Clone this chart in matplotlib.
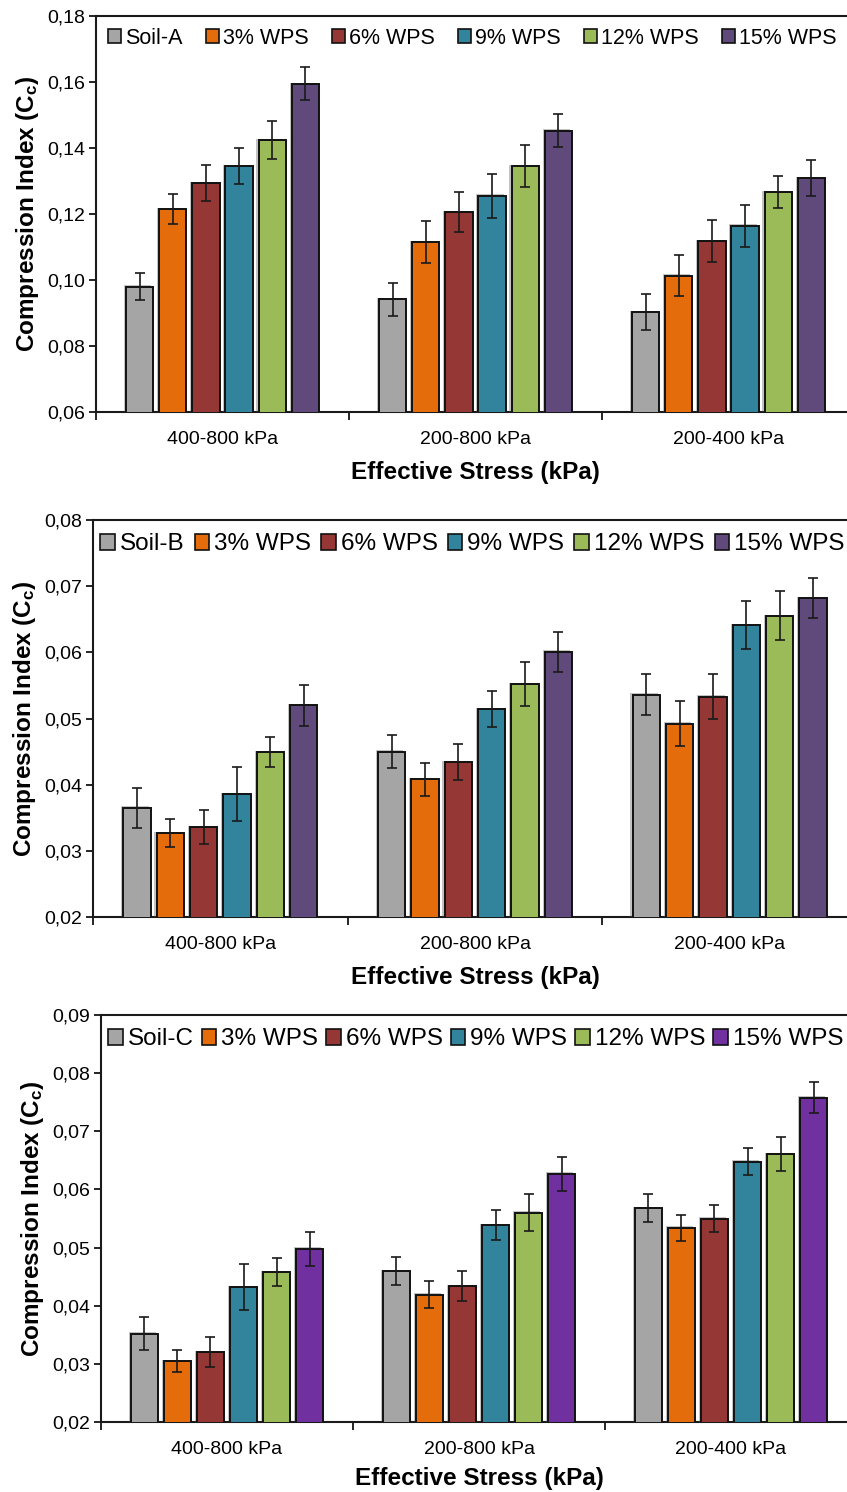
import matplotlib
matplotlib.use('Agg')
import matplotlib.pyplot as plt
import matplotlib.patheffects as pe
from matplotlib.ticker import FuncFormatter, FixedLocator
import numpy as np

plt.rcParams['font.family'] = ['Liberation Sans', 'DejaVu Sans']
plt.rcParams['mathtext.fontset'] = 'custom'
plt.rcParams['mathtext.rm'] = 'Liberation Sans:bold'
plt.rcParams['mathtext.it'] = 'Liberation Sans:bold'

categories = ['400-800 kPa', '200-800 kPa', '200-400 kPa']
wps_labels = ['3% WPS', '6% WPS', '9% WPS', '12% WPS', '15% WPS']

# rows: soil, 3%, 6%, 9%, 12%, 15% WPS; columns: stress ranges
soil_a_cc = [[0.0980, 0.0942, 0.0903],
             [0.1215, 0.1115, 0.1013],
             [0.1294, 0.1206, 0.1118],
             [0.1345, 0.1255, 0.1164],
             [0.1424, 0.1345, 0.1267],
             [0.1594, 0.1452, 0.1309]]
soil_a_err = [[0.0040, 0.0050, 0.0055],
              [0.0045, 0.0064, 0.0062],
              [0.0054, 0.0060, 0.0064],
              [0.0055, 0.0066, 0.0063],
              [0.0058, 0.0064, 0.0048],
              [0.0050, 0.0050, 0.0055]]

soil_b_cc = [[0.0365, 0.0450, 0.0536],
             [0.0327, 0.0408, 0.0492],
             [0.0336, 0.0434, 0.0533],
             [0.0386, 0.0514, 0.0641],
             [0.0449, 0.0552, 0.0655],
             [0.0520, 0.0601, 0.0682]]
soil_b_err = [[0.0030, 0.0025, 0.0031],
              [0.0021, 0.0025, 0.0034],
              [0.0026, 0.0027, 0.0034],
              [0.0041, 0.0027, 0.0036],
              [0.0023, 0.0033, 0.0037],
              [0.0031, 0.0030, 0.0030]]

soil_c_cc = [[0.0352, 0.0459, 0.0568],
             [0.0305, 0.0419, 0.0534],
             [0.0320, 0.0434, 0.0550],
             [0.0432, 0.0539, 0.0648],
             [0.0458, 0.0560, 0.0661],
             [0.0498, 0.0627, 0.0758]]
soil_c_err = [[0.0029, 0.0024, 0.0024],
              [0.0019, 0.0023, 0.0022],
              [0.0026, 0.0026, 0.0024],
              [0.0039, 0.0026, 0.0024],
              [0.0024, 0.0032, 0.0029],
              [0.0029, 0.0029, 0.0026]]

base_colors = ['#A5A5A5', '#E46C0A', '#953735', '#31849B', '#9BBB59']
purple_ab = '#604A7B'
purple_c = '#7030A0'

W, H = 847, 1492


def px_axes(fig, left, top, right, bottom):
    return fig.add_axes([left / W, 1 - bottom / H, (right - left) / W, (bottom - top) / H])


def comma_fmt(v, pos):
    return f'{v:.2f}'.replace('.', ',')


def draw_panel(ax, soil_name, means, errs, ylim, colors, leg_size, colspacing,
               leg_x=0.0, xlabel_pad=9):
    x = np.arange(len(categories))
    pitch = 0.131
    width = 0.108
    names = [soil_name] + wps_labels
    shadow = [pe.SimplePatchShadow(offset=(-1.5, 1.0), shadow_rgbFace='#555555', alpha=0.35),
              pe.Normal()]
    for i, name in enumerate(names):
        pos = x + (i - 2.5) * pitch
        bars = ax.bar(pos, means[i], width=width, bottom=0, color=colors[i],
                      edgecolor='#111111', linewidth=1.4, label=name, zorder=3)
        for b in bars:
            b.set_path_effects(shadow)
        ax.errorbar(pos, means[i], yerr=errs[i], fmt='none', ecolor='#1a1a1a',
                    elinewidth=1.2, capsize=3.5, capthick=1.2, zorder=4)

    ax.set_ylim(*ylim)
    ax.set_xlim(-0.5, 2.5)
    step = 0.01 if ylim[1] < 0.1 else 0.02
    ax.yaxis.set_major_locator(FixedLocator(np.arange(ylim[0], ylim[1] + 1e-9, step)))
    ax.yaxis.set_major_formatter(FuncFormatter(comma_fmt))
    ax.tick_params(axis='y', direction='out', length=5, width=1.2, labelsize=14, pad=3)
    ax.set_xticks(x)
    ax.set_xticklabels(categories)
    ax.tick_params(axis='x', length=0, labelsize=14, pad=14)
    ax.set_xticks([-0.5, 0.5, 1.5], minor=True)
    ax.tick_params(axis='x', which='minor', direction='out', length=6, width=1.2)
    for s in ax.spines.values():
        s.set_linewidth(1.5)
        s.set_color('#1a1a1a')

    ax.set_ylabel('Compression Index (C$_{c}$)', fontsize=17.5, fontweight='bold', labelpad=4)
    ax.set_xlabel('Effective Stress (kPa)', fontsize=17.5, fontweight='bold', labelpad=xlabel_pad)

    leg = ax.legend(loc='upper left', ncol=6, frameon=False, fontsize=leg_size,
                    handlelength=0.6, handleheight=0.6, handletextpad=0.2,
                    columnspacing=colspacing, borderaxespad=0.15,
                    bbox_to_anchor=(leg_x, 1.0))
    for h in leg.legend_handles:
        h.set_path_effects([])
        h.set_linewidth(1.2)


fig = plt.figure(figsize=(W / 100, H / 100), dpi=100)

ax1 = px_axes(fig, 96, 16, 855, 412)
draw_panel(ax1, 'Soil-A', soil_a_cc, soil_a_err, (0.06, 0.18),
           base_colors + [purple_ab], 15.5, 1.07)

ax2 = px_axes(fig, 93, 520, 857, 917)
draw_panel(ax2, 'Soil-B', soil_b_cc, soil_b_err, (0.02, 0.08),
           base_colors + [purple_ab], 17.5, 0.42, leg_x=-0.008)

ax3 = px_axes(fig, 101, 1015, 857, 1422)
draw_panel(ax3, 'Soil-C', soil_c_cc, soil_c_err, (0.02, 0.09),
           base_colors + [purple_c], 17.5, 0.33, leg_x=-0.008, xlabel_pad=6)

fig.savefig('out.png', dpi=100)
plt.close(fig)
